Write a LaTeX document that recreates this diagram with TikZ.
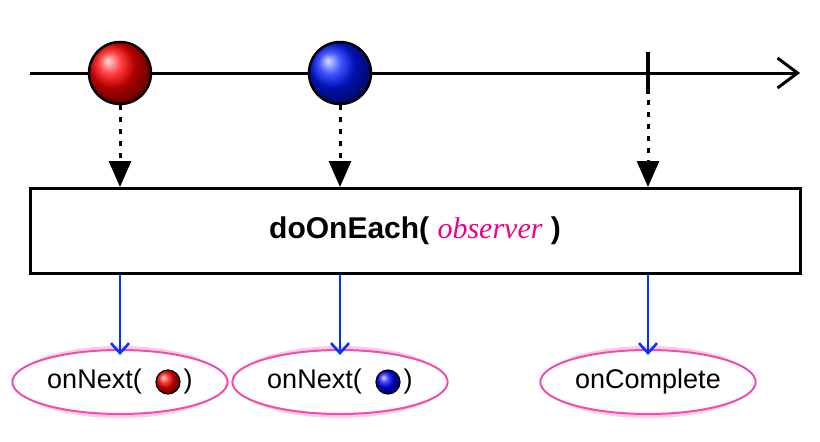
\documentclass[tikz,border=0pt]{standalone}
\usepackage{fontspec}
\setmainfont{Liberation Sans}
\usetikzlibrary{arrows.meta, positioning, shapes.geometric}

\tikzset{
  marble/.style={circle, draw=black, line width=2.5pt, minimum size=#1, inner sep=0pt},
  redball/.style={marble=62pt, ball color=red},
  blueball/.style={marble=62pt, ball color=blue!90!cyan},
  dotarrow/.style={line width=3pt, dash pattern=on 5pt off 7pt, -{Triangle[length=26pt, width=22pt]}},
  outarrow/.style={blue!80!cyan, line width=2.5pt, -{Straight Barb[length=10pt, width=18pt]}},
  callout/.style={ellipse, draw=magenta!70, line width=2pt, fill=white, minimum width=198pt, minimum height=64pt, font=\fontsize{27}{32}\selectfont},
  glow/.style={ellipse, draw=magenta!20, line width=8pt, minimum width=198pt, minimum height=64pt}
}

\begin{document}
\begin{tikzpicture}[x=1pt, y=-1pt]
\useasboundingbox (0,0) rectangle (820,442);

% timeline
\coordinate (tl0) at (30,73);
\coordinate (tl1) at (800,73);
\draw[line width=3pt, -{Straight Barb[length=20pt, width=30pt, line width=3pt]}] (tl0) -- (tl1);
\coordinate (done) at (648,73);
\draw[line width=3.5pt] (648,52) -- (648,94);
\node[redball] (red) at (120,73) {};
\node[blueball] (blue) at (340,73) {};

% operator box
\node[draw, line width=3pt, fill=white, minimum width=770pt, minimum height=85pt, inner sep=0pt,
      font=\fontsize{30}{36}\selectfont\bfseries] (op) at (415,231)
  {doOnEach( \textcolor{magenta}{\normalfont\fontsize{30}{36}\fontspec{Liberation Serif}\itshape observer} )};

% inputs
\draw[dotarrow] (red.south) -- (red.south |- op.north);
\draw[dotarrow] (blue.south) -- (blue.south |- op.north);
\draw[dotarrow] (648,100) -- (done |- op.north);

% outputs
\foreach \x in {120, 340, 648}
  \node[glow] at (\x,382) {};
\node[callout] (na) at (120,382) {onNext(\phantom{OO})};
\node[callout] (nb) at (340,382) {onNext(\phantom{OO})};
\node[callout] (nc) at (648,382) {onComplete};
\node[marble=24pt, line width=1.2pt, ball color=red] (ra) at (168,382) {};
\node[marble=24pt, line width=1.2pt, ball color=blue] (ba) at (388,382) {};

\draw[outarrow] (na.north |- op.south) -- ([yshift=-6pt]na.north);
\draw[outarrow] (nb.north |- op.south) -- ([yshift=-6pt]nb.north);
\draw[outarrow] (nc.north |- op.south) -- ([yshift=-6pt]nc.north);
\end{tikzpicture}
\end{document}
